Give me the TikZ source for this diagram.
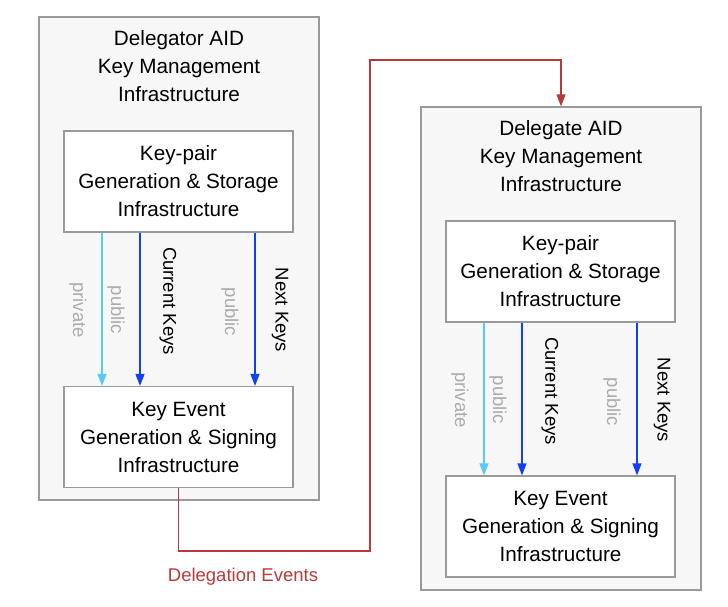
\documentclass[tikz,border=0pt]{standalone}
\usepackage{fontspec}
\setmainfont{Liberation Sans}
\usetikzlibrary{arrows.meta,positioning}
\definecolor{boxgray}{HTML}{F7F7F7}
\definecolor{edgegray}{HTML}{9A9A9A}
\definecolor{labgray}{HTML}{ABABAB}
\definecolor{lightblue}{HTML}{5AC8FA}
\definecolor{keyblue}{HTML}{1340F5}
\definecolor{delred}{HTML}{B83A3A}
\tikzset{
  outerbox/.style={draw=edgegray, fill=boxgray, line width=1.2pt, minimum width=280pt, minimum height=483pt},
  innerbox/.style={draw=edgegray, fill=white, line width=1.2pt, minimum width=229pt, minimum height=101pt,
    align=center, font=\fontsize{20.7}{28}\selectfont},
  titletext/.style={align=center, font=\fontsize{20.7}{28}\selectfont},
  keyarrow/.style={line width=1.2pt, -{Triangle[width=9pt,length=12pt]}},
  graylab/.style={rotate=-90, text=labgray, font=\fontsize{18.5}{20}\selectfont},
  blacklab/.style={rotate=-90, font=\fontsize{18.5}{20}\selectfont},
}
\begin{document}
\begin{tikzpicture}[x=1pt,y=-1pt]
  \useasboundingbox (0,0) rectangle (728,606);

  % delegator side
  \node[outerbox] (torOuter) at (179,258.5) {};
  \node[titletext] (torTitle) at (179,66) {Delegator AID\\Key Management\\Infrastructure};
  \node[innerbox] (torPair) at (178.5,181.5) {Key-pair\\Generation \& Storage\\Infrastructure};
  \node[innerbox] (torEvent) at (178.5,437) {Key Event\\Generation \& Signing\\Infrastructure};
  \draw[keyarrow, lightblue] (torPair.south -| 102,0) -- (torEvent.north -| 102,0);
  \draw[keyarrow, keyblue] (torPair.south -| 140,0) -- (torEvent.north -| 140,0);
  \draw[keyarrow, keyblue] (torPair.south -| 255,0) -- (torEvent.north -| 255,0);
  \node[graylab] (torPriv) at (78,310) {private};
  \node[graylab] (torPub) at (116,310) {public};
  \node[blacklab] (torCur) at (168,301) {Current Keys};
  \node[graylab] (torPubNext) at (230,312) {public};
  \node[blacklab] (torNext) at (280,310) {Next Keys};

  % delegate side
  \node[outerbox] (teeOuter) at (561,348.5) {};
  \node[titletext] (teeTitle) at (561,156) {Delegate AID\\Key Management\\Infrastructure};
  \node[innerbox] (teePair) at (560.5,271.5) {Key-pair\\Generation \& Storage\\Infrastructure};
  \node[innerbox] (teeEvent) at (560.5,526.5) {Key Event\\Generation \& Signing\\Infrastructure};
  \draw[keyarrow, lightblue] (teePair.south -| 484,0) -- (teeEvent.north -| 484,0);
  \draw[keyarrow, keyblue] (teePair.south -| 522,0) -- (teeEvent.north -| 522,0);
  \draw[keyarrow, keyblue] (teePair.south -| 637,0) -- (teeEvent.north -| 637,0);
  \node[graylab] (teePriv) at (460,400) {private};
  \node[graylab] (teePub) at (498,400) {public};
  \node[blacklab] (teeCur) at (550,391) {Current Keys};
  \node[graylab] (teePubNext) at (612,402) {public};
  \node[blacklab] (teeNext) at (662,400) {Next Keys};

  % delegation events
  \coordinate (delLow) at (370,551);
  \coordinate (delHigh) at (370,60);
  \draw[delred, line width=1.2pt, -{Triangle[width=9pt,length=12pt]}]
    (torEvent.south) |- (delLow) -- (delHigh) -| (teeOuter.north);
  \node[text=delred, font=\fontsize{18.5}{20}\selectfont] (delLabel) at (243,577) {Delegation Events};
\end{tikzpicture}
\end{document}
